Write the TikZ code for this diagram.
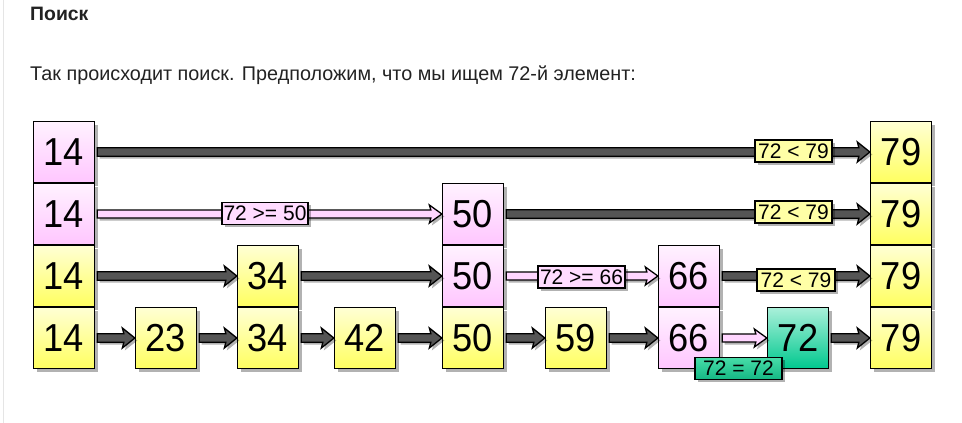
\documentclass[tikz,border=0pt]{standalone}
\usepackage{fontspec}
\setmainfont{Liberation Sans}
\usetikzlibrary{calc,shadows}
\definecolor{yT}{HTML}{FFFFD4}
\definecolor{yB}{HTML}{FFFF60}
\definecolor{pT}{HTML}{FFF2FF}
\definecolor{pB}{HTML}{FFC6FF}
\definecolor{gT}{HTML}{AAF0DA}
\definecolor{gB}{HTML}{00C88E}
\definecolor{lgT}{HTML}{48DCA8}
\definecolor{lgB}{HTML}{14B884}
\definecolor{arrgray}{HTML}{555555}
\definecolor{arrpink}{HTML}{FFD6FF}
\definecolor{txt}{HTML}{222222}
% arrow polygon: #1 from node, #2 to node, #3 fill, #4 shaft half width, #5 head half width, #6 head length
\newcommand\arrpoly[6]{%
  \path[fill=#3, draw=black, line width=1.3pt, line join=miter,
        drop shadow={shadow xshift=2.5pt, shadow yshift=-2.5pt, opacity=0.3, fill=black}]
    let \p1=(#1.east), \p2=(#2.west) in
    (\x1+2,\y1+#4) -- (\x2-#6,\y1+#4) -- (\x2-#6-1.5,\y1+#5) -- (\x2,\y1)
    -- (\x2-#6-1.5,\y1-#5) -- (\x2-#6,\y1-#4) -- (\x1+2,\y1-#4) -- cycle;}
\newcommand\blkarr[2]{\arrpoly{#1}{#2}{arrgray}{4.2}{10}{11}}
\newcommand\pnkarr[2]{\arrpoly{#1}{#2}{arrpink}{4}{9}{11}}
\newcommand\cellnum[1]{\scalebox{0.93}[1]{#1}}
\begin{document}
\begin{tikzpicture}[x=1pt,y=-1pt,
  cell/.style={draw=black, line width=1.3pt, minimum width=61pt, minimum height=61pt,
    inner sep=0pt, font=\fontsize{39}{39}\selectfont,
    drop shadow={shadow xshift=3pt, shadow yshift=-3pt, opacity=0.3, fill=black}},
  ycell/.style={cell, top color=yT, bottom color=yB},
  pcell/.style={cell, top color=pT, bottom color=pB},
  gcell/.style={cell, top color=gT, bottom color=gB},
  lab/.style={draw=black, line width=1.2pt, inner sep=0pt, minimum height=22pt,
    font=\fontsize{21}{21}\selectfont,
    drop shadow={shadow xshift=2.5pt, shadow yshift=-2.5pt, opacity=0.3, fill=black}},
  ylab/.style={lab, fill=yT!60!yB},
  plab/.style={lab, fill=pT!50!pB},
  glab/.style={lab, top color=lgT, bottom color=lgB}]
\useasboundingbox (0,0) rectangle (962,423);
\fill[white] (0,0) rectangle (962,423);
\draw[black!10, line width=1pt] (3,0) -- (3,423);
% texts
\node[anchor=base west, inner sep=0pt, text=txt, font=\bfseries\fontsize{19.4}{19.4}\selectfont] (title) at (30,20) {Поиск};
\node[anchor=base west, inner sep=0pt, text=txt, font=\fontsize{19.8}{19.8}\selectfont] (para) at (30,80) {Так происходит поиск. Предположим, что мы ищем 72-й элемент:};
% column 14
\node[pcell] (a14) at (64,152) {\cellnum{14}};
\node[pcell] (b14) at (64,214) {\cellnum{14}};
\node[ycell] (c14) at (64,276) {\cellnum{14}};
\node[ycell] (d14) at (64,338) {\cellnum{14}};
% column 23
\node[ycell] (d23) at (166,338) {\cellnum{23}};
% column 34
\node[ycell] (c34) at (268,276) {\cellnum{34}};
\node[ycell] (d34) at (268,338) {\cellnum{34}};
% column 42
\node[ycell] (d42) at (365,338) {\cellnum{42}};
% column 50
\node[pcell] (b50) at (473,214) {\cellnum{50}};
\node[pcell] (c50) at (473,276) {\cellnum{50}};
\node[ycell] (d50) at (473,338) {\cellnum{50}};
% column 59
\node[ycell] (d59) at (576,338) {\cellnum{59}};
% column 66
\node[pcell] (c66) at (689,276) {\cellnum{66}};
\node[pcell] (d66) at (689,338) {\cellnum{66}};
% column 72
\node[gcell] (d72) at (798,338) {\cellnum{72}};
% column 79
\node[ycell] (a79) at (901,152) {\cellnum{79}};
\node[ycell] (b79) at (901,214) {\cellnum{79}};
\node[ycell] (c79) at (901,276) {\cellnum{79}};
\node[ycell] (d79) at (901,338) {\cellnum{79}};
% arrows
\blkarr{a14}{a79}
\pnkarr{b14}{b50}
\blkarr{b50}{b79}
\blkarr{c14}{c34}
\blkarr{c34}{c50}
\pnkarr{c50}{c66}
\blkarr{c66}{c79}
\blkarr{d14}{d23}
\blkarr{d23}{d34}
\blkarr{d34}{d42}
\blkarr{d42}{d50}
\blkarr{d50}{d59}
\blkarr{d59}{d66}
\pnkarr{d66}{d72}
\blkarr{d72}{d79}
% labels
\node[ylab, minimum width=77pt] (l1) at (793.5,151) {72 < 79};
\node[plab, minimum width=86pt] (l2) at (265,213.5) {72 >= 50};
\node[ylab, minimum width=77pt] (l3) at (793.5,212) {72 < 79};
\node[plab, minimum width=87pt] (l4) at (581.5,277) {72 >= 66};
\node[ylab, minimum width=78pt] (l5) at (796,280) {72 < 79};
\node[glab, minimum width=87pt] (l6) at (738.5,368.5) {72 = 72};
\end{tikzpicture}
\end{document}
